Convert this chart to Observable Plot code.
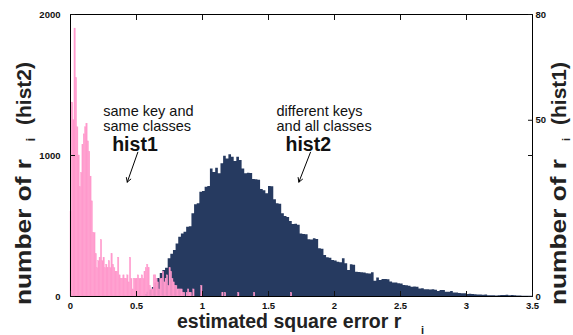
<!DOCTYPE html>
<html><head><meta charset="utf-8">
<script src="https://cdn.jsdelivr.net/npm/d3@7"></script>
<script src="https://cdn.jsdelivr.net/npm/@observablehq/plot@0.6"></script>
<style>
html,body{margin:0;padding:0;background:#fff;}
</style>
</head><body><div id="chart"></div>
<script>
// hist2: different keys and all classes (left axis, bins of 0.02 starting at 0.56)
const hist2Start = 0.56;
const hist2BinWidth = 0.02;
const hist2Counts = [
  15,30,45,64,95,128,163,184,200,268,300,326,372,421,444,456,491,495,586,650,
  657,740,745,775,780,905,880,910,870,941,995,976,1005,988,957,988,965,905,870,875,
  872,830,828,825,759,750,728,780,778,686,657,655,586,567,560,532,511,512,505,444,
  440,438,402,400,409,405,338,335,291,274,272,255,252,243,240,267,232,184,225,222,
  172,170,168,166,161,160,168,109,132,113,120,121,118,102,95,96,90,88,78,77,
  73,66,67,65,54,55,47,48,46,47,45,35,43,42,31,30,35,24,25,22,
  19,20,15,16,14,12,10,11,9,10,6,5,5,4,6,7,7,8,6,7,
  5,4,3,2,2,1,1
];
// hist1: same key and same classes (right axis, bins of 0.01 starting at 0)
const hist1Start = 0;
const hist1BinWidth = 0.01;
const hist1Counts = [
  24,55,50,76,62,48,40,31,35,43,46,48,49,44,41,34,27,18,18,12,
  8,10,11,16,10,11,8,9,8,10,8,12,9,8,7,7,11,6,5,5,
  6,5,5,6,4,11,5,2,5,5,5,6,5,5,6,5,7,8,9,8,
  3,2,2,6,6,5,4,2,5,5,7,4,5,6,3,8,7,5,4,3,
  3,2,2,2,2,1,1,0,1,2,1,1,0,2,0,0,0,0,0,3
];
const hist1SparseX = [1.15, 1.17, 1.27, 1.39, 1.67];
const hist1SparseCounts = [1, 1, 1, 1, 1];

const xTicks = [0, 0.5, 1, 1.5, 2, 2.5, 3, 3.5];
const yTicks = [0, 1000, 2000];
const y2Ticks = [0, 50, 80];
const yMax = 2000;
const y2Max = 80;

const noteText = ["same key and\nsame classes", "different keys\nand all classes"];
const noteX = [0.248, 1.561];
const noteY = [1177, 1177];
const noteTitle = ["hist1", "hist2"];
const noteTitleX = [0.316, 1.629];
const noteTitleY = [1030, 1030];
const arrowX1 = [0.51, 1.818], arrowY1 = [1023, 1023];
const arrowX2 = [0.43, 1.73], arrowY2 = [811, 811];

const k = yMax / y2Max;
const navy = hist2Counts.map((v, i) => ({x: +(hist2Start + i * hist2BinWidth).toFixed(4), y: v}));
navy.push({x: +(hist2Start + hist2Counts.length * hist2BinWidth).toFixed(4), y: 0});
const pink = hist1Counts.map((v, i) => ({x1: hist1Start + i * hist1BinWidth, x2: hist1Start + (i + 1) * hist1BinWidth, y: v * k})).filter(d => d.y > 0);
hist1SparseX.forEach((x, i) => pink.push({x1: x, x2: x + hist1BinWidth, y: hist1SparseCounts[i] * k}));

const notes = noteText.map((t, i) => ({t, x: noteX[i], y: noteY[i]}));
const titles = noteTitle.map((t, i) => ({t, x: noteTitleX[i], y: noteTitleY[i]}));
const arrows = arrowX1.map((d, i) => ({x1: arrowX1[i], y1: arrowY1[i], x2: arrowX2[i], y2: arrowY2[i]}));

const tickFont = {fontWeight: "bold", fontSize: 9.5};
const blank = () => "";
const plain = d => String(d);

const plot = Plot.plot({
  width: 573, height: 335,
  marginLeft: 70, marginRight: 41, marginTop: 14, marginBottom: 39,
  style: {fontFamily: "'Liberation Sans', Arial, sans-serif", background: "white", color: "#111", overflow: "visible"},
  x: {domain: [0, 3.5]},
  y: {domain: [0, yMax]},
  marks: [
    Plot.areaY(navy, {x: "x", y: "y", curve: "step-after", fill: "#263a60"}),
    Plot.rectY(pink, {x1: "x1", x2: "x2", y: "y", fill: "#ff99cc", stroke: "#ff99cc", strokeWidth: 0.4, inset: 0}),
    Plot.frame({stroke: "black"}),
    Plot.axisX(xTicks, {anchor: "bottom", tickSize: -5, tickPadding: 11, tickFormat: plain, label: null, ...tickFont}),
    Plot.axisX(xTicks.slice(1, -1), {anchor: "top", tickSize: -5, tickFormat: blank, label: null}),
    Plot.axisY(yTicks, {anchor: "left", tickSize: -5, tickPadding: 15, tickFormat: plain, label: null, ...tickFont}),
    Plot.axisY(y2Ticks.map(t => t * k), {anchor: "right", tickSize: -5, tickPadding: 8, tickFormat: d => String(d / k), label: null, ...tickFont}),
    Plot.axisY([1000], {anchor: "right", tickSize: -5, tickFormat: blank, label: null}),
    Plot.text(notes, {x: "x", y: "y", text: "t", textAnchor: "start", lineAnchor: "bottom", fontSize: 14.5, lineHeight: 1.03, fill: "#111"}),
    Plot.text(titles, {x: "x", y: "y", text: "t", textAnchor: "start", lineAnchor: "bottom", fontSize: 19.5, fontWeight: "bold", fill: "#111"}),
    Plot.arrow(arrows, {x1: "x1", y1: "y1", x2: "x2", y2: "y2", stroke: "black", strokeWidth: 1, headLength: 7})
  ]
});

const svg = d3.select(plot);
const lab = {fill: "#222", "font-weight": "bold", "font-family": "'Liberation Sans', Arial, sans-serif"};
function addText(str, tx, ty, rot, size, anchor, len) {
  const t = svg.append("text").attr("transform", `translate(${tx},${ty})` + (rot ? ` rotate(${rot})` : ""))
    .attr("text-anchor", anchor).attr("font-size", size).text(str);
  if (len) t.attr("textLength", len).attr("lengthAdjust", "spacingAndGlyphs");
  Object.entries(lab).forEach(([a, v]) => t.attr(a, v));
}
// x-axis title
addText("estimated square error r", 177, 328, 0, 19.5, "start");
addText("i", 421, 333.5, 0, 11, "start");
// left axis title
addText("number of r", 31, 305, -90, 22, "start", 146);
addText("i", 35, 138, -90, 12, "end");
addText("(hist2)", 31, 125, -90, 21, "start");
// right axis title
addText("number of r", 566, 305, -90, 22, "start", 146);
addText("i", 569.5, 138, -90, 11, "end");
addText("(hist1)", 566, 125, -90, 21, "start");

document.getElementById("chart").appendChild(plot);
</script>
</body></html>
